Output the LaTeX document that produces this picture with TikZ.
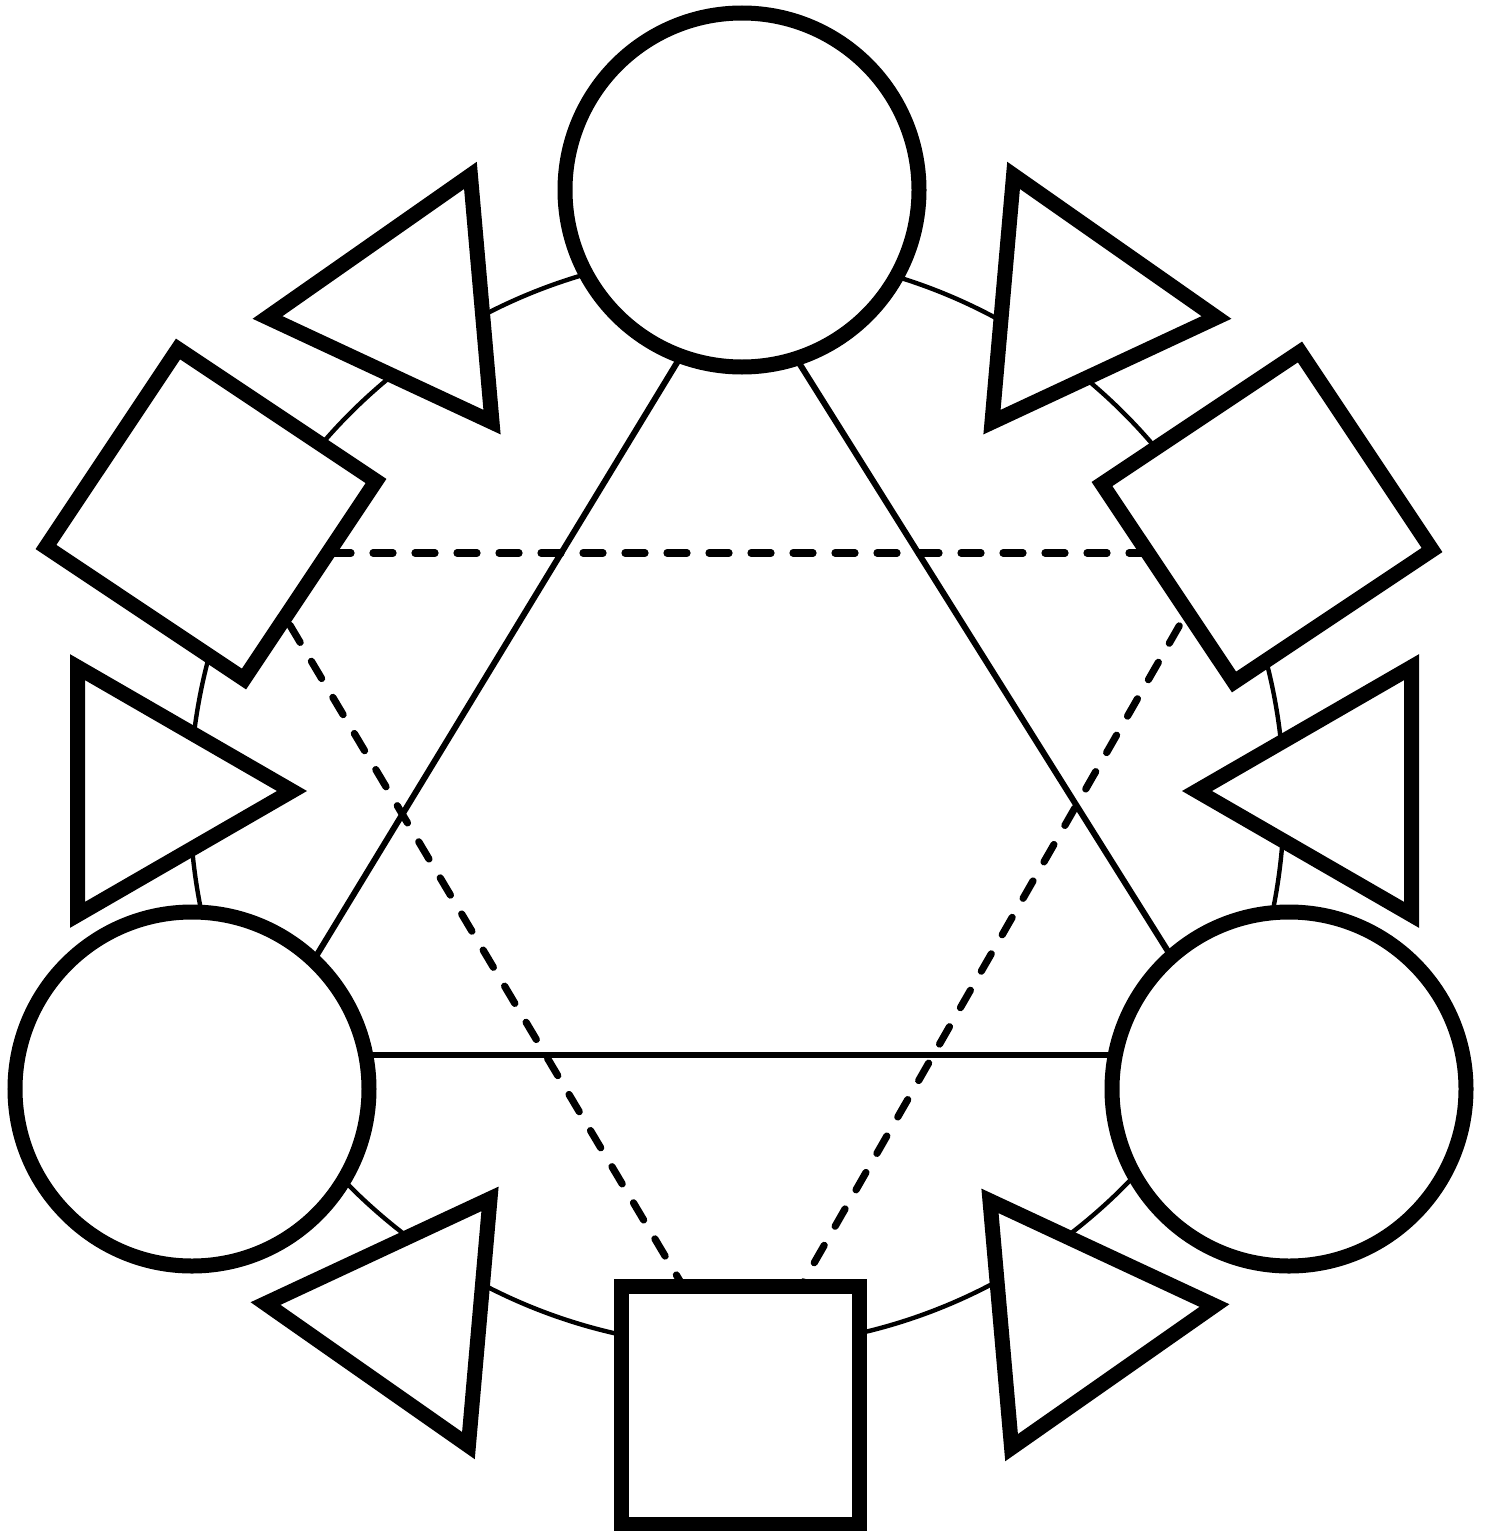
\documentclass[tikz,border=0pt]{standalone}
\begin{document}
\begin{tikzpicture}[x=0.5pt,y=-0.5pt,
  shapeline/.style={draw=black, line width=7.5pt, fill=white, line join=miter},
  ring/.style={draw=black, line width=2.2pt},
  solidlink/.style={draw=black, line width=3pt},
  dashlink/.style={draw=black, line width=3.6pt, line cap=round, dash pattern=on 10pt off 11pt},
  roundnode/.style={shapeline, circle, inner sep=0pt, outer sep=0pt, minimum size=177pt},
  squarenode/.style={shapeline, rectangle, inner sep=0pt, outer sep=0pt, minimum size=119pt},
]
\useasboundingbox (0,0) rectangle (1486,1531);
\fill[white] (0,0) rectangle (1486,1531);
% big ring
\coordinate (O) at (737,800);
\draw[ring] (O) circle [radius=547];
% solid triangle corners
\coordinate (S1) at (737,264);
\coordinate (S2) at (256,1055);
\coordinate (S3) at (1233,1055);
% dashed triangle corners
\coordinate (D1) at (247,553);
\coordinate (D2) at (1221,553);
\coordinate (D3) at (743,1387);
\draw[solidlink] (S1) -- (S2);
\draw[solidlink] (S1) -- (S3);
\draw[solidlink] (S2) -- (S3);
\draw[dashlink] (D1) -- (D2);
\draw[dashlink] (D1) -- (D3);
\draw[dashlink] (D2) -- (D3);
% circles
\node[roundnode] (ctop) at (742,190) {};
\node[roundnode] (cleft) at (192,1089) {};
\node[roundnode] (cright) at (1289,1089) {};
% squares
\node[squarenode, rotate=-33.7] (sleft) at (211,514) {};
\node[squarenode, rotate=33.7] (sright) at (1267,517) {};
\node[squarenode, minimum size=119pt] (sbottom) at (740,1405) {};
% triangles
\coordinate (t1) at (410,305);
\coordinate (t2) at (1074,305);
\coordinate (t3) at (149,791);
\coordinate (t4) at (1340,791);
\coordinate (t5) at (408,1316);
\coordinate (t6) at (1072,1318);
\draw[shapeline, shift={(t1)}] (-65:143) -- (175:143) -- (55:143) -- cycle;
\draw[shapeline, shift={(t2)}] (-115:143) -- (125:143) -- (5:143) -- cycle;
\draw[shapeline, shift={(t3)}] (0:143) -- (-120:143) -- (-240:143) -- cycle;
\draw[shapeline, shift={(t4)}] (-60:143) -- (180:143) -- (60:143) -- cycle;
\draw[shapeline, shift={(t5)}] (-55:143) -- (-175:143) -- (65:143) -- cycle;
\draw[shapeline, shift={(t6)}] (-5:143) -- (-125:143) -- (115:143) -- cycle;
\end{tikzpicture}
\end{document}
